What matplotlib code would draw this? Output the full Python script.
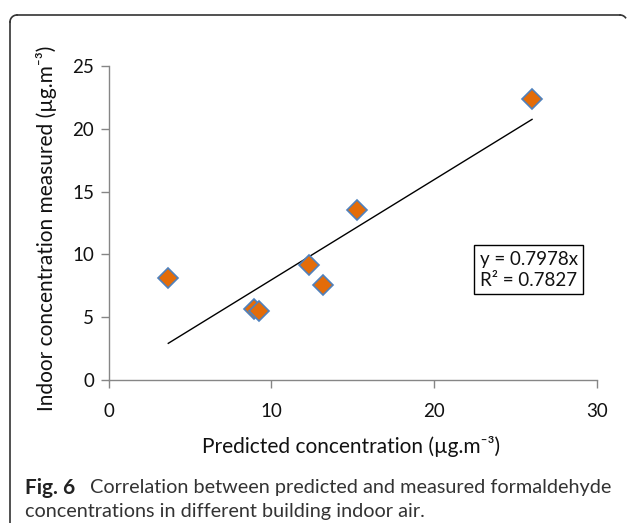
import matplotlib
matplotlib.use("Agg")
import matplotlib.pyplot as plt
import numpy as np
from matplotlib.lines import Line2D

predicted = [3.66, 8.94, 9.22, 12.33, 13.17, 15.26, 26.01]
measured = [8.15, 5.67, 5.49, 9.14, 7.55, 13.5, 22.41]
slope = 0.7978
r2 = 0.7827
xticks = [0, 10, 20, 30]
yticks = [0, 5, 10, 15, 20, 25]

plt.rcParams['font.family'] = ['Lato', 'DejaVu Sans']

W, H = 629, 523
fig = plt.figure(figsize=(W/100, H/100), dpi=100)
x0, x1, y0, y1 = 108.7, 597.0, 380.0, 66.0
ax = fig.add_axes([x0/W, 1-y0/H, (x1-x0)/W, (y0-y1)/H])

ax.plot(predicted, measured, linestyle='none', marker='D', markersize=10.5,
        markerfacecolor='#E36C09', markeredgecolor='#4F81BD', markeredgewidth=1.2, zorder=3)
xs = np.array([min(predicted), max(predicted)])
ax.plot(xs, slope*xs, color='black', linewidth=1.0, zorder=2)

ax.set_xlim(0, 30)
ax.set_ylim(0, 25)
ax.set_xticks(xticks)
ax.set_yticks(yticks)
ax.tick_params(axis='both', direction='out', length=5.5, color='#868686', width=1,
               labelsize=13.5, labelcolor='#111111')
ax.tick_params(axis='y', pad=5)
ax.tick_params(axis='x', pad=11)
for s in ['top', 'right']:
    ax.spines[s].set_visible(False)
for s in ['left', 'bottom']:
    ax.spines[s].set_color('#868686')
    ax.spines[s].set_linewidth(1)

ax.set_xlabel('Predicted concentration (µg.m⁻³)', fontsize=15, color='#111111')
ax.xaxis.set_label_coords((351-x0)/(x1-x0), -(436-y0)/(y0-y1))
ax.set_ylabel('Indoor concentration measured (µg.m⁻³)', fontsize=15, color='#111111')
ax.yaxis.set_label_coords(-(x0-57)/(x1-x0), (y0-228)/(y0-y1))

ax.text(0.860, 0.351, f'y = {slope}x\nR² = {r2}', transform=ax.transAxes,
        ha='center', va='center', fontsize=13.5, color='#111111', linespacing=1.25,
        bbox=dict(boxstyle='square,pad=0.3', facecolor='white', edgecolor='black', linewidth=1))

# border
lc = '#333333'
fig.add_artist(Line2D([10/W, 10/W], [1-22/H, 0], color=lc, linewidth=1.2))
fig.add_artist(Line2D([17/W, 620/W], [1-15/H, 1-15/H], color=lc, linewidth=1.2))
t = np.linspace(0, np.pi/2, 20)
fig.add_artist(Line2D((17 - 7*np.cos(t))/W, 1-(22 - 7*np.sin(t))/H, color=lc, linewidth=1.2))
fig.add_artist(Line2D((620 + 7*np.sin(t[:12]))/W, 1-(22 - 7*np.cos(t[:12]))/H, color=lc, linewidth=1.2))

fig.text(25/W, 1-488/H, 'Fig. 6', fontsize=15, fontweight='bold', color='#222222', va='center', ha='left')
fig.text(90/W, 1-488/H, 'Correlation between predicted and measured formaldehyde',
         fontsize=14.3, color='#333333', va='center', ha='left')
fig.text(25/W, 1-511/H, 'concentrations in different building indoor air.',
         fontsize=14.3, color='#333333', va='center', ha='left')

fig.savefig('out.png', dpi=100)
